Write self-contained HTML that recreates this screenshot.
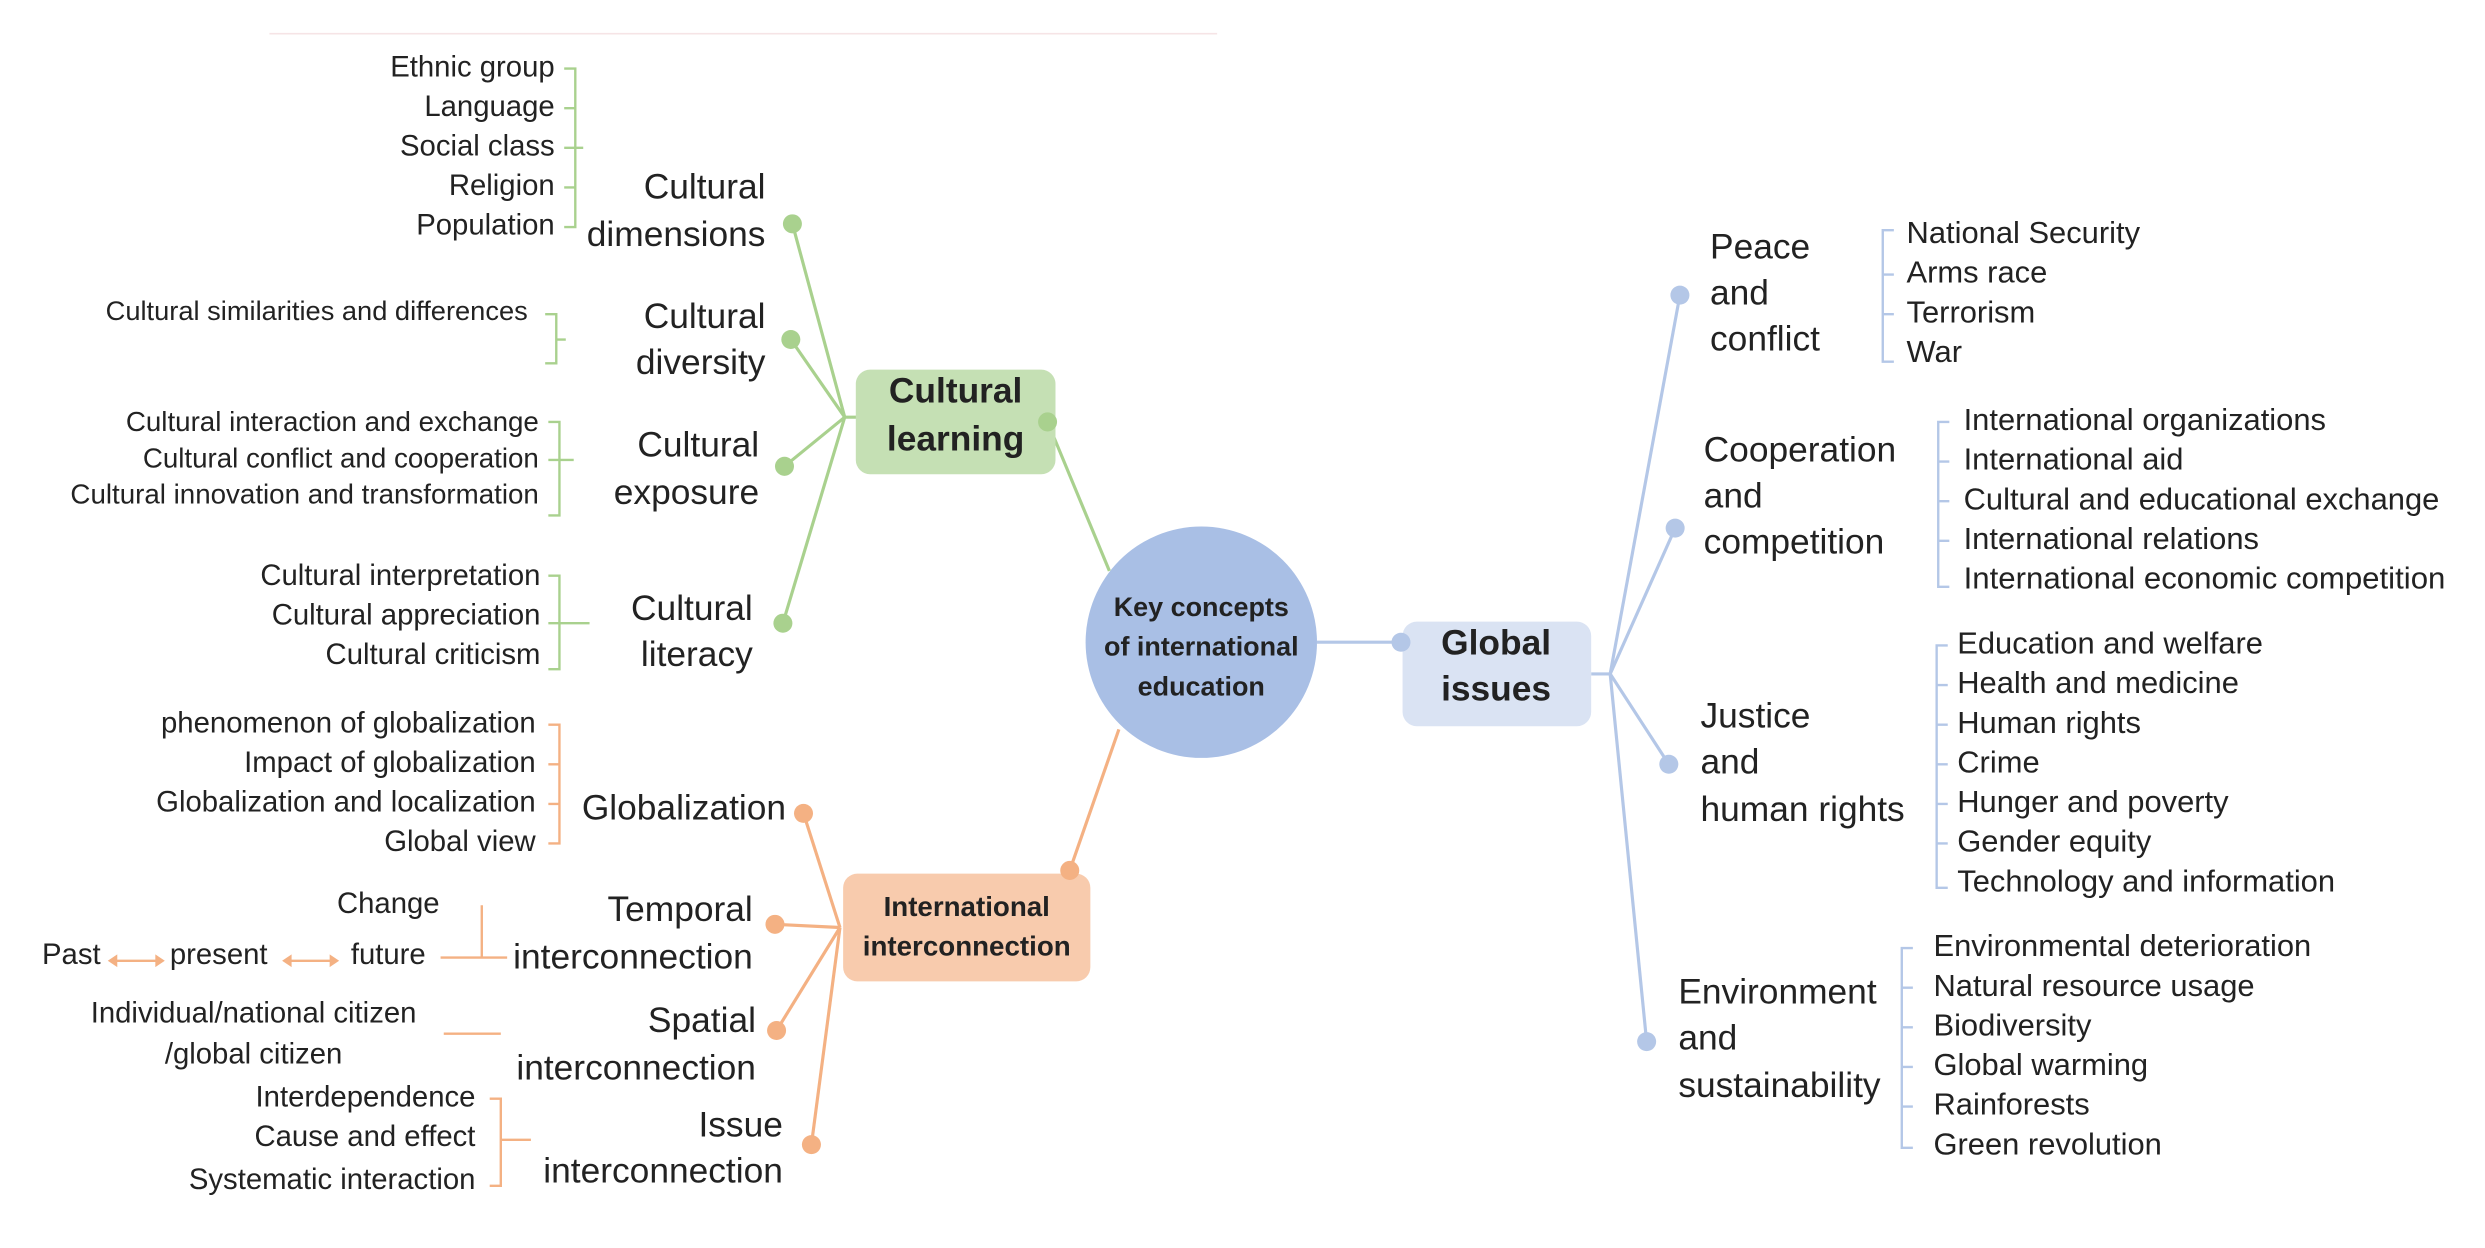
<!DOCTYPE html>
<html><head><meta charset="utf-8"><style>
html,body{margin:0;padding:0;background:#fff;}
svg{display:block;}
text{font-family:"Liberation Sans",sans-serif;fill:#222;dominant-baseline:middle;}
.s{font-size:18.5px;}
.r{font-size:19.5px;}
.m{font-size:22.3px;}
.b{font-weight:bold;}
</style></head><body>
<svg width="2485" height="1248" viewBox="0 0 1568 787" xmlns="http://www.w3.org/2000/svg">
<line x1="170" y1="21" x2="768" y2="21" stroke="#f6e4e6" stroke-width="1"/>

<line x1="661" y1="266" x2="700" y2="360" stroke="#a9d18e" stroke-width="2"/>
<line x1="675" y1="549" x2="706" y2="460" stroke="#f4b183" stroke-width="2"/>
<line x1="831" y1="405" x2="884" y2="405" stroke="#b4c7e7" stroke-width="2"/>

<circle cx="758" cy="405" r="73" fill="#a9bfe5"/>
<text x="758" y="384" text-anchor="middle" class="b" font-size="17">Key concepts</text>
<text x="758" y="409" text-anchor="middle" class="b" font-size="17">of international</text>
<text x="758" y="434" text-anchor="middle" class="b" font-size="17">education</text>

<!-- GREEN -->
<g stroke="#a9d18e" stroke-width="2" fill="none">
<line x1="533" y1="263" x2="500" y2="141"/>
<line x1="533" y1="263" x2="499" y2="214"/>
<line x1="533" y1="263" x2="495" y2="294"/>
<line x1="533" y1="263" x2="494" y2="393"/>
<line x1="533" y1="263" x2="545" y2="263"/>
</g>
<rect x="540" y="233" width="126" height="66" rx="9" fill="#c5e0b4"/>
<text x="603" y="248" text-anchor="middle" class="m b">Cultural</text>
<text x="603" y="278" text-anchor="middle" class="m b">learning</text>
<g fill="#a9d18e">
<circle cx="661" cy="266" r="6"/><circle cx="500" cy="141" r="6"/><circle cx="499" cy="214" r="6"/><circle cx="495" cy="294" r="6"/><circle cx="494" cy="393" r="6"/>
</g>
<g class="m" text-anchor="end">
<text x="483" y="119">Cultural</text><text x="483" y="149">dimensions</text>
<text x="483" y="201">Cultural</text><text x="483" y="230">diversity</text>
<text x="479" y="282">Cultural</text><text x="479" y="312">exposure</text>
<text x="475" y="385">Cultural</text><text x="475" y="414">literacy</text>
</g>
<g class="s" text-anchor="end">
<text x="350" y="43">Ethnic group</text><text x="350" y="68">Language</text><text x="350" y="93">Social class</text><text x="350" y="118">Religion</text><text x="350" y="143">Population</text>
<text x="333" y="197" font-size="17.2">Cultural similarities and differences</text>
<text x="340" y="267" font-size="17.5">Cultural interaction and exchange</text><text x="340" y="290" font-size="17.5">Cultural conflict and cooperation</text><text x="340" y="313" font-size="17.5">Cultural innovation and transformation</text>
<text x="341" y="364">Cultural interpretation</text><text x="341" y="389">Cultural appreciation</text><text x="341" y="414">Cultural criticism</text>
</g>
<g stroke="#a9d18e" stroke-width="1.5" fill="none">
<path d="M356 43H363V143H356M356 68H363M356 93H363M356 118H363M363 93H368"/>
<path d="M344 198H351V229H344M351 214H357"/>
<path d="M346 266H353V325H346M346 290H362"/>
<path d="M346 363H353V422H346M346 393H372"/>
</g>

<!-- ORANGE -->
<g stroke="#f4b183" stroke-width="2" fill="none">
<line x1="530" y1="585" x2="507" y2="513"/>
<line x1="530" y1="585" x2="489" y2="583"/>
<line x1="530" y1="585" x2="490" y2="650"/>
<line x1="530" y1="585" x2="512" y2="722"/>
</g>
<rect x="532" y="551" width="156" height="68" rx="9" fill="#f8cbad"/>
<text x="610" y="573" text-anchor="middle" class="b" font-size="17.5">International</text>
<text x="610" y="598" text-anchor="middle" class="b" font-size="17.5">interconnection</text>
<g fill="#f4b183">
<circle cx="675" cy="549" r="6"/><circle cx="507" cy="513" r="6"/><circle cx="489" cy="583" r="6"/><circle cx="490" cy="650" r="6"/><circle cx="512" cy="722" r="6"/>
</g>
<g class="m" text-anchor="end">
<text x="496" y="511">Globalization</text>
<text x="475" y="575">Temporal</text><text x="475" y="605">interconnection</text>
<text x="477" y="645">Spatial</text><text x="477" y="675">interconnection</text>
<text x="494" y="711">Issue</text><text x="494" y="740">interconnection</text>
</g>
<g class="s" text-anchor="end">
<text x="338" y="457">phenomenon of globalization</text><text x="338" y="482">Impact of globalization</text><text x="338" y="507">Globalization and localization</text><text x="338" y="532">Global view</text>
<text x="300" y="693">Interdependence</text><text x="300" y="718">Cause and effect</text><text x="300" y="745">Systematic interaction</text>
</g>
<g class="s" text-anchor="middle">
<text x="245" y="571">Change</text><text x="245" y="603">future</text>
<text x="45" y="603">Past</text><text x="138" y="603">present</text>
<text x="160" y="640">Individual/national citizen</text><text x="160" y="666">/global citizen</text>
</g>
<g stroke="#f4b183" stroke-width="1.5" fill="none">
<path d="M346 457H353V532H346M346 482H353M346 507H353"/>
<path d="M304 571V604M278 604H320"/>
<path d="M280 652H316"/>
<path d="M309 693H316V748H309M316 719H335"/>
<path d="M72 606H100M182 606H210"/>
</g>
<g fill="#f4b183">
<path d="M68 606l6-4v8z"/><path d="M104 606l-6-4v8z"/><path d="M178 606l6-4v8z"/><path d="M214 606l-6-4v8z"/>
</g>

<!-- BLUE -->
<g stroke="#b4c7e7" stroke-width="2" fill="none">
<line x1="1004" y1="425" x2="1016" y2="425"/>
<line x1="1016" y1="425" x2="1060" y2="186"/>
<line x1="1016" y1="425" x2="1057" y2="333"/>
<line x1="1016" y1="425" x2="1053" y2="482"/>
<line x1="1016" y1="425" x2="1039" y2="657"/>
</g>
<rect x="885" y="392" width="119" height="66" rx="9" fill="#dae3f3"/>
<text x="944" y="407" text-anchor="middle" class="m b">Global</text>
<text x="944" y="436" text-anchor="middle" class="m b">issues</text>
<g fill="#b4c7e7">
<circle cx="884" cy="405" r="6"/><circle cx="1060" cy="186" r="6"/><circle cx="1057" cy="333" r="6"/><circle cx="1053" cy="482" r="6"/><circle cx="1039" cy="657" r="6"/>
</g>
<g class="m">
<text x="1079" y="157">Peace</text><text x="1079" y="186">and</text><text x="1079" y="215">conflict</text>
<text x="1075" y="285">Cooperation</text><text x="1075" y="314">and</text><text x="1075" y="343">competition</text>
<text x="1073" y="453">Justice</text><text x="1073" y="482">and</text><text x="1073" y="512">human rights</text>
<text x="1059" y="627">Environment</text><text x="1059" y="656">and</text><text x="1059" y="686">sustainability</text>
</g>
<g class="r">
<text x="1203" y="148">National Security</text><text x="1203" y="173">Arms race</text><text x="1203" y="198">Terrorism</text><text x="1203" y="223">War</text>
<text x="1239" y="266">International organizations</text><text x="1239" y="291">International aid</text><text x="1239" y="316">Cultural and educational exchange</text><text x="1239" y="341">International relations</text><text x="1239" y="366" textLength="304" lengthAdjust="spacingAndGlyphs">International economic competition</text>
<text x="1235" y="407">Education and welfare</text><text x="1235" y="432">Health and medicine</text><text x="1235" y="457">Human rights</text><text x="1235" y="482">Crime</text><text x="1235" y="507">Hunger and poverty</text><text x="1235" y="532">Gender equity</text><text x="1235" y="557">Technology and information</text>
<text x="1220" y="598">Environmental deterioration</text><text x="1220" y="623">Natural resource usage</text><text x="1220" y="648">Biodiversity</text><text x="1220" y="673">Global warming</text><text x="1220" y="698">Rainforests</text><text x="1220" y="723">Green revolution</text>
</g>
<g stroke="#b4c7e7" stroke-width="1.5" fill="none">
<path d="M1195 145H1188V228H1195M1188 173H1195M1188 198H1195"/>
<path d="M1230 266H1223V370H1230M1223 291H1230M1223 316H1230M1223 341H1230"/>
<path d="M1229 407H1222V560H1229M1222 432H1229M1222 457H1229M1222 482H1229M1222 507H1229M1222 532H1229"/>
<path d="M1207 598H1200V724H1207M1200 623H1207M1200 648H1207M1200 673H1207M1200 698H1207"/>
</g>
</svg>
</body></html>
